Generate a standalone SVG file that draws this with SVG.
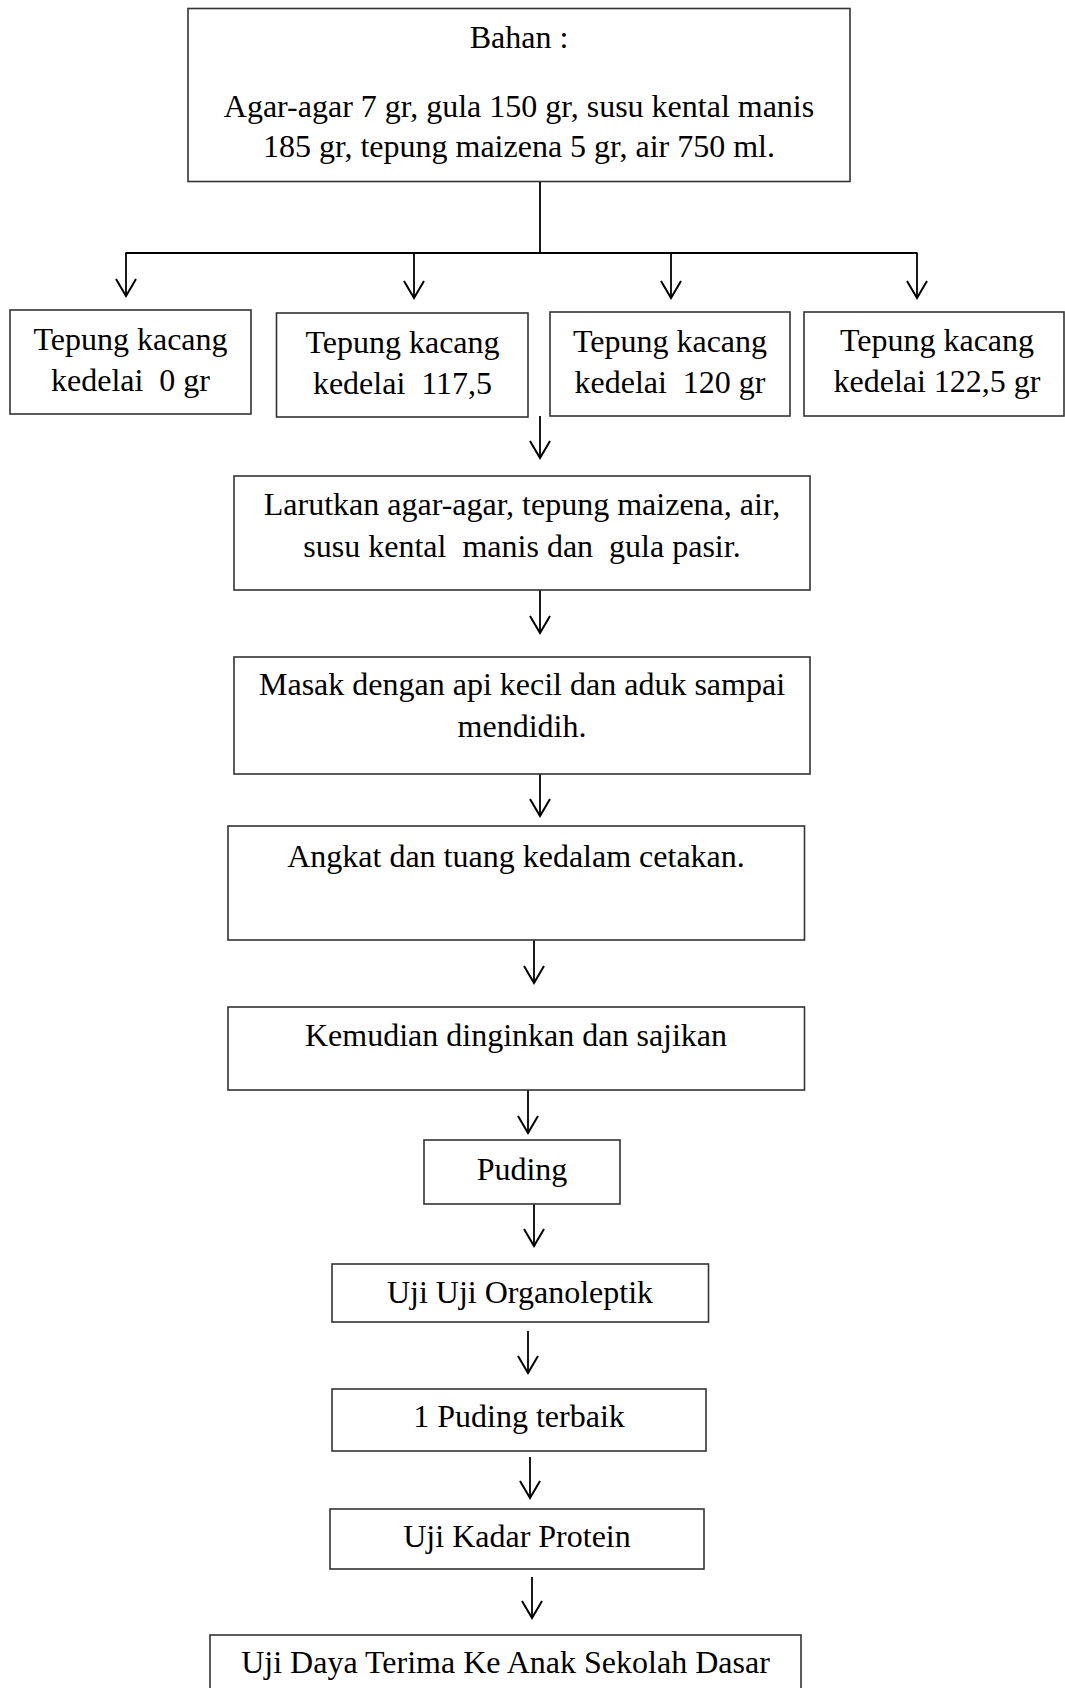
<svg xmlns="http://www.w3.org/2000/svg" width="1065" height="1688" viewBox="0 0 1065 1688">
<defs>
<style>
.box{fill:#fff;stroke:#333;stroke-width:1.6}
.t{font-family:"Liberation Serif","Times New Roman",serif;font-size:32px;fill:#000;text-anchor:middle;white-space:pre}
.c{stroke:#000;stroke-width:1.8;fill:none}
.a{marker-end:url(#arr)}
</style>
<marker id="arr" markerUnits="userSpaceOnUse" viewBox="-20 -12 23 24" markerWidth="23" markerHeight="24" refX="0" refY="0" orient="auto">
<path d="M-17,-10 L0,0 L-17,10" fill="none" stroke="#000" stroke-width="2"/>
</marker>
</defs>
<rect width="1065" height="1688" fill="#fff"/>
<g id="connectors">
<line class="c" x1="540" y1="182" x2="540" y2="253"/>
<line class="c" x1="125.5" y1="253" x2="917.5" y2="253"/>
<line class="c a" x1="126" y1="253" x2="126" y2="296"/>
<line class="c a" x1="414" y1="253" x2="414" y2="298"/>
<line class="c a" x1="671" y1="253" x2="671" y2="298"/>
<line class="c a" x1="917" y1="253" x2="917" y2="298"/>
<line class="c a" x1="540" y1="416" x2="540" y2="458"/>
<line class="c a" x1="540" y1="590" x2="540" y2="633"/>
<line class="c a" x1="540" y1="774" x2="540" y2="816"/>
<line class="c a" x1="534" y1="940" x2="534" y2="983"/>
<line class="c a" x1="528" y1="1090" x2="528" y2="1133"/>
<line class="c a" x1="534" y1="1204" x2="534" y2="1246"/>
<line class="c a" x1="528" y1="1331" x2="528" y2="1373"/>
<line class="c a" x1="530" y1="1457" x2="530" y2="1498"/>
<line class="c a" x1="532" y1="1577" x2="532" y2="1618"/>
</g>
<g id="bahan">
<rect class="box" x="188" y="8.5" width="662" height="173"/>
<text class="t" x="519" y="48">Bahan :</text>
<text class="t" x="519" y="116.5">Agar-agar 7 gr, gula 150 gr, susu kental manis</text>
<text class="t" x="519" y="156.5">185 gr, tepung maizena 5 gr, air 750 ml.</text>
</g>
<g id="k0">
<rect class="box" x="10" y="310" width="241" height="104"/>
<text class="t" x="130.5" y="350">Tepung kacang</text>
<text class="t" x="130.5" y="391">kedelai  0 gr</text>
</g>
<g id="k1175">
<rect class="box" x="276.5" y="313" width="251.5" height="104"/>
<text class="t" x="402.5" y="353">Tepung kacang</text>
<text class="t" x="402.5" y="394">kedelai  117,5</text>
</g>
<g id="k120">
<rect class="box" x="550" y="312" width="240" height="104"/>
<text class="t" x="670" y="352">Tepung kacang</text>
<text class="t" x="670" y="393">kedelai  120 gr</text>
</g>
<g id="k1225">
<rect class="box" x="804" y="312" width="260" height="104"/>
<text class="t" x="937" y="351">Tepung kacang</text>
<text class="t" x="937" y="392">kedelai 122,5 gr</text>
</g>
<g id="larutkan">
<rect class="box" x="234" y="476" width="576" height="114"/>
<text class="t" x="522" y="515">Larutkan agar-agar, tepung maizena, air,</text>
<text class="t" x="522" y="557">susu kental  manis dan  gula pasir.</text>
</g>
<g id="masak">
<rect class="box" x="234" y="657" width="576" height="117"/>
<text class="t" x="522" y="695">Masak dengan api kecil dan aduk sampai</text>
<text class="t" x="522" y="737">mendidih.</text>
</g>
<g id="angkat">
<rect class="box" x="228" y="826" width="576.5" height="114"/>
<text class="t" x="516" y="867">Angkat dan tuang kedalam cetakan.</text>
</g>
<g id="kemudian">
<rect class="box" x="228" y="1007" width="576.5" height="83"/>
<text class="t" x="516" y="1046">Kemudian dinginkan dan sajikan</text>
</g>
<g id="puding">
<rect class="box" x="424" y="1140" width="196" height="64"/>
<text class="t" x="522" y="1180">Puding</text>
</g>
<g id="organoleptik">
<rect class="box" x="332" y="1264" width="376.5" height="58"/>
<text class="t" x="520" y="1303">Uji Uji Organoleptik</text>
</g>
<g id="terbaik">
<rect class="box" x="332" y="1389" width="374" height="62"/>
<text class="t" x="519" y="1427">1 Puding terbaik</text>
</g>
<g id="protein">
<rect class="box" x="330" y="1509" width="374" height="60"/>
<text class="t" x="517" y="1547">Uji Kadar Protein</text>
</g>
<g id="dayaterima">
<rect class="box" x="210" y="1635" width="591" height="70"/>
<text class="t" x="505.5" y="1673">Uji Daya Terima Ke Anak Sekolah Dasar</text>
</g>
</svg>
